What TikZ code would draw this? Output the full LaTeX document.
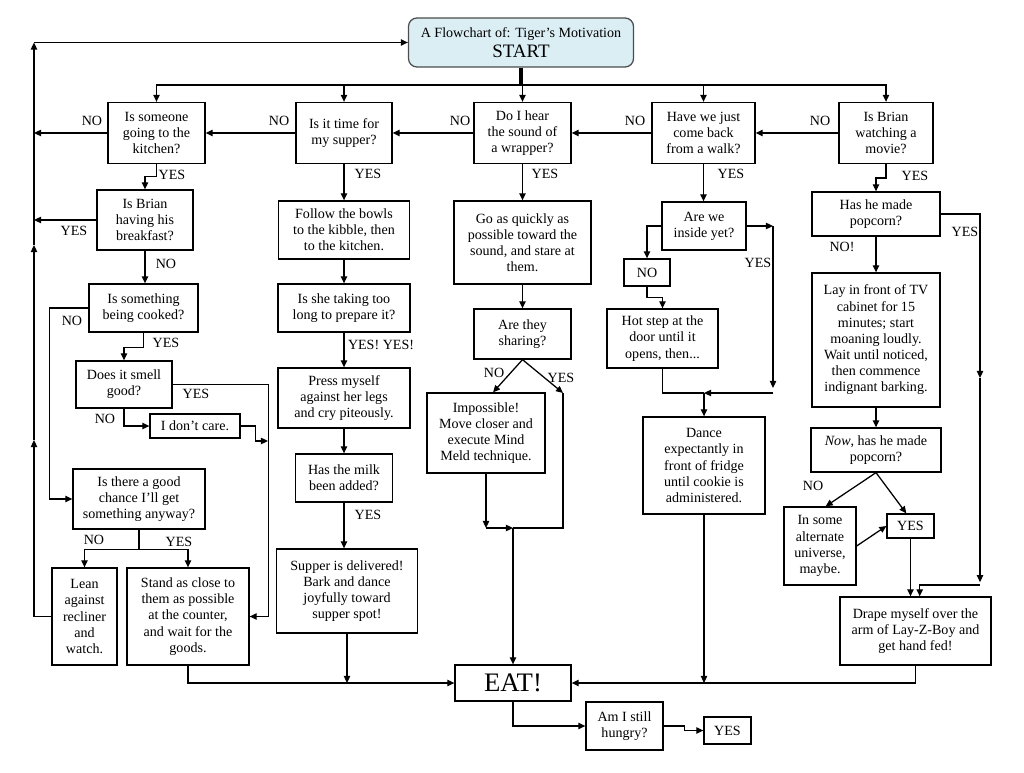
\documentclass[tikz,border=0pt]{standalone}
\usepackage{fontspec}
\setmainfont{Liberation Serif}
\usetikzlibrary{positioning,arrows.meta}
\definecolor{startblue}{RGB}{218,238,243}
\tikzset{wh/.style 2 args={minimum width=#1*0.025cm,minimum height=#2*0.025cm}}

\begin{document}
\begin{tikzpicture}[x=0.025cm,y=-0.025cm]
\tikzstyle{every node}+=[inner sep=1pt]
\tikzstyle{box}=[draw,rectangle,align=center,line width=0.9pt,font=\fontsize{10}{11.5}\selectfont]
\tikzstyle{lbl}=[font=\fontsize{10}{11.5}\selectfont]
\tikzstyle{ln}=[line width=0.9pt,-{Triangle[length=5pt,width=4.5pt]}]
\tikzstyle{pl}=[line width=0.9pt]
\useasboundingbox (0,0) rectangle (1024,773);

\node[box,wh={225}{49},rounded corners=6pt,fill=startblue,draw=black!70] (start) at (521,42.5) {A Flowchart of: Tiger's Motivation\\[2.5pt]{\fontsize{13.5}{14}\selectfont START}};

\node[box,wh={97}{61}] (someone) at (156.5,133) {Is someone\\going to the\\kitchen?};
\node[box,wh={96}{61}] (supper) at (344,133) {Is it time for\\my supper?};
\node[box,wh={97}{61}] (wrapper) at (522.5,133) {Do I hear\\the sound of\\a wrapper?};
\node[box,wh={103}{61}] (walk) at (703.5,133) {Have we just\\come back\\from a walk?};
\node[box,wh={94}{61}] (movie) at (886,133) {Is Brian\\watching a\\movie?};

\node[box,wh={96}{60}] (breakfast) at (145,220) {Is Brian\\having his\\breakfast?};
\node[box,wh={109}{48}] (cooked) at (143.5,308) {Is something\\being cooked?};
\node[box,wh={96}{47}] (smell) at (124,384.5) {Does it smell\\good?};
\node[box,wh={90}{24}] (dontcare) at (195,426) {I don't care.};
\node[box,wh={132}{60}] (chance) at (139,499) {Is there a good\\chance I'll get\\something anyway?};
\node[box,wh={65}{97}] (lean) at (84.5,616.5) {Lean\\against\\recliner\\and\\watch.};
\node[box,wh={122}{97}] (stand) at (188,616.5) {Stand as close to\\them as possible\\at the counter,\\and wait for the\\goods.};

\node[box,wh={131}{58}] (bowls) at (344,230) {Follow the bowls\\to the kibble, then\\to the kitchen.};
\node[box,wh={132}{48}] (toolong) at (344,308) {Is she taking too\\long to prepare it?};
\node[box,wh={132}{60}] (press) at (344,398) {Press myself\\against her legs\\and cry piteously.};
\node[box,wh={97}{48}] (milk) at (344,478) {Has the milk\\been added?};
\node[box,wh={141}{84}] (delivered) at (347,591) {Supper is delivered!\\Bark and dance\\joyfully toward\\supper spot!};

\node[box,wh={137}{83}] (quickly) at (522.5,242.5) {Go as quickly as\\possible toward the\\sound, and stare at\\them.};
\node[box,wh={97}{50}] (sharing) at (522.5,334) {Are they\\sharing?};
\node[box,wh={118}{80}] (impossible) at (486,433) {Impossible!\\Move closer and\\execute Mind\\Meld technique.};

\node[box,wh={84}{48}] (inside) at (704,226) {Are we\\inside yet?};
\node[box,wh={46}{27}] (nobox) at (647,272.5) {NO};
\node[box,wh={111}{59}] (hotstep) at (662.5,338.5) {Hot step at the\\door until it\\opens, then...};
\node[box,wh={122}{97}] (dance) at (704,465.5) {Dance\\expectantly in\\front of fridge\\until cookie is\\administered.};

\node[box,wh={128}{44}] (popcorn) at (876,214) {Has he made\\popcorn?};
\node[box,wh={128}{134}] (lay) at (876,340) {Lay in front of TV\\cabinet for 15\\minutes; start\\moaning loudly.\\Wait until noticed,\\then commence\\indignant barking.};
\node[box,wh={130}{44}] (now) at (876,450) {\textit{Now}, has he made\\popcorn?};
\node[box,wh={72}{78}] (alternate) at (820,546) {In some\\alternate\\universe,\\maybe.};
\node[box,wh={47}{24}] (yesbox) at (910.5,526) {YES};
\node[box,wh={151}{68}] (drape) at (915.5,631) {Drape myself over the\\arm of Lay-Z-Boy and\\get hand fed!};

\node[box,wh={116}{36},font=\fontsize{19}{20}\selectfont] (eat) at (513,683) {EAT!};
\node[box,wh={77}{48}] (hungry) at (624.5,726) {Am I still\\hungry?};
\node[box,wh={47}{27}] (yesend) at (727.5,730.5) {YES};

\coordinate (bus) at (521,85);
\coordinate (spinetop) at (34,42.5);
\coordinate (spinemid) at (34,245);
\coordinate (spinelow) at (34,440);
\coordinate (join) at (268,441);
\coordinate (shareyes) at (563,393);
\coordinate (meet) at (513,528);
\coordinate (insideyes) at (773,226);
\coordinate (dancejoin) at (704,393);
\coordinate (popyes) at (980,378);
\coordinate (drapejoin) at (980,585);

\draw[line width=2.5pt] (start.south) -- (bus);
\draw[ln] (bus) -| (someone.north);
\draw[ln] (bus) -| (supper.north);
\draw[ln] (bus) -| (walk.north);
\draw[ln] (bus) -| (movie.north);
\draw[ln] (wrapper.north |- bus) -- (wrapper.north);

\draw[ln] (movie.west) -- (walk.east);
\draw[ln] (walk.west) -- (wrapper.east);
\draw[ln] (wrapper.west) -- (supper.east);
\draw[ln] (supper.west) -- (someone.east);
\draw[ln] (someone.west) -- (someone.west -| spinetop);
\draw[ln] (breakfast.west) -- (breakfast.west -| spinetop);
\draw[ln] (lean.west) -| (spinelow);
\draw[ln] (spinelow) -- (spinemid);
\draw[ln] (spinemid) -- (spinetop);
\draw[ln] (spinetop) -- (start.west);

\draw[ln] (someone.south) -- ++(0,12.5) -| (breakfast.north);
\draw[ln] (breakfast.south) -- (breakfast.south |- cooked.north);
\draw[ln] (cooked.west) -- ++(-39,0) |- (chance.west);
\draw[ln] (cooked.south) -- ++(0,15) -| (smell.north);
\draw[ln] (smell.east) -- ++(96,0) |- (stand.east);
\draw[ln] (smell.south) |- (dontcare.west);
\draw[ln] (dontcare.east) -- ++(15,0) |- (join);
\draw[pl] (chance.south) -- ++(0,20) coordinate (fork);
\draw[ln] (fork) -| (lean.north);
\draw[ln] (fork) -| (stand.north);
\draw[ln] (stand.south) |- (eat.west);

\draw[ln] (supper.south) -- (bowls.north);
\draw[ln] (bowls.south) -- (toolong.north);
\draw[ln] (toolong.south) -- (press.north);
\draw[ln] (press.south) -- (milk.north);
\draw[ln] (milk.south) -- (milk.south |- delivered.north);
\draw[ln] (delivered.south) -- (delivered.south |- eat.west);

\draw[ln] (wrapper.south) -- (wrapper.south |- quickly.north);
\draw[ln] (quickly.south) -- (quickly.south |- sharing.north);
\draw[ln] (sharing.south) -- ([xshift=5pt]impossible.north);
\draw[ln] (sharing.south) -- (shareyes);
\draw[pl] (shareyes) |- (meet);
\draw[ln] (impossible.south) -- (impossible.south |- meet);
\draw[ln] (impossible.south |- meet) -- (meet);
\draw[ln] (meet) -- (eat.north);

\draw[ln] (walk.south) -- (walk.south |- inside.north);
\draw[ln] (inside.west) -| (nobox.north);
\draw[ln] (nobox.south) -- ++(0,11) -| (hotstep.north);
\draw[ln] (inside.east) -- (insideyes);
\draw[ln] (insideyes) -- ++(0,162);
\draw[ln] (insideyes |- dancejoin) -- (dancejoin);
\draw[pl] (hotstep.south) |- (dancejoin);
\draw[ln] (dancejoin) -- (dance.north);
\draw[ln] (dance.south) -- (dance.south |- eat.east);

\draw[ln] (movie.south) -- ++(0,14) -| (popcorn.north);
\draw[ln] (popcorn.south) -- (lay.north);
\draw[ln] (popcorn.east) -| (popyes);
\draw[ln] (popyes) -- ([yshift=2pt]drapejoin);
\draw[ln] (drapejoin) -| ([xshift=3pt]drape.north);
\draw[ln] (lay.south) -- (now.north);
\draw[ln] (now.south) -- ([xshift=4pt]alternate.north);
\draw[ln] (now.south) -- ([xshift=-3pt]yesbox.north);
\draw[ln] (alternate.east) -- (yesbox.west);
\draw[ln] (yesbox.south) -- (yesbox.south |- drape.north);
\draw[ln] (drape.south) |- (eat.east);

\draw[ln] (eat.south) |- (hungry.west);
\draw[ln] (hungry.east) -- ++(21,0) |- (yesend.west);

\node[lbl] (noA) at (820,121) {NO};
\node[lbl] (noB) at (635,121) {NO};
\node[lbl] (noC) at (460,121) {NO};
\node[lbl] (noD) at (279,121) {NO};
\node[lbl] (noE) at (92,121) {NO};
\node[lbl] (yesA) at (172,175) {YES};
\node[lbl] (yesB) at (74,231) {YES};
\node[lbl] (noF) at (166,264) {NO};
\node[lbl] (noG) at (72,321) {NO};
\node[lbl] (yesC) at (166,343) {YES};
\node[lbl] (yesD) at (196,394) {YES};
\node[lbl] (noH) at (105,419) {NO};
\node[lbl] (noI) at (94,540) {NO};
\node[lbl] (yesE) at (179,542) {YES};
\node[lbl] (yesF) at (368,174) {YES};
\node[lbl] (yesG) at (381,345) {YES! YES!};
\node[lbl] (yesH) at (368,515) {YES};
\node[lbl] (yesI) at (545,174) {YES};
\node[lbl] (noJ) at (494,373) {NO};
\node[lbl] (yesJ) at (561,378) {YES};
\node[lbl] (yesK) at (731,174) {YES};
\node[lbl] (yesL) at (758,263) {YES};
\node[lbl] (yesM) at (915,176) {YES};
\node[lbl] (noK) at (842,247) {NO!};
\node[lbl] (yesN) at (965,232) {YES};
\node[lbl] (noL) at (813,486) {NO};
\end{tikzpicture}
\end{document}
